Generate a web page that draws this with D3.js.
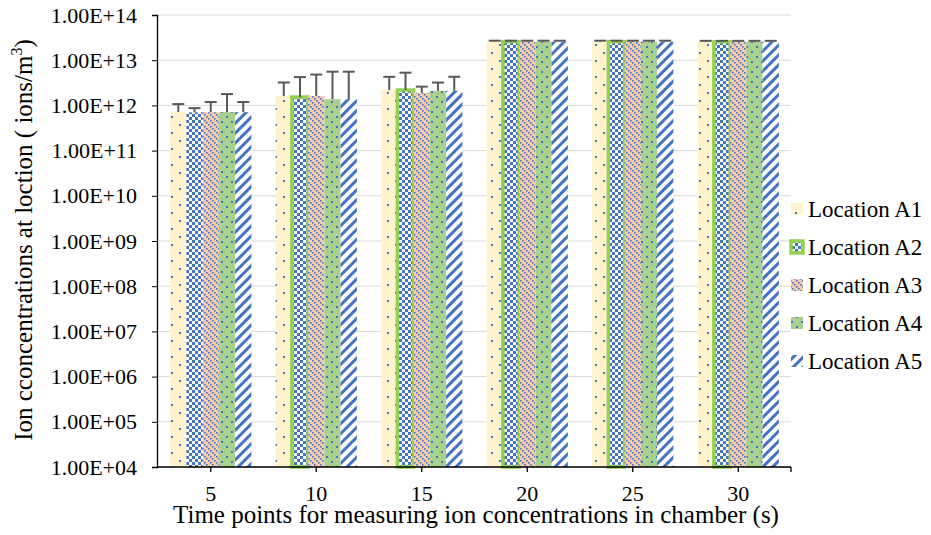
<!DOCTYPE html>
<html>
<head>
<meta charset="utf-8">
<script src="https://cdn.jsdelivr.net/npm/d3@7"></script>
<style>
  body { margin: 0; background: #fff; }
  svg text { font-family: "Liberation Serif", "Times New Roman", "DejaVu Serif", serif; fill: #000; }
</style>
</head>
<body>
<svg id="chart" width="931" height="535"></svg>
<script>
// data
var categories = ['5', '10', '15', '20', '25', '30'];
var seriesNames = ['Location A1', 'Location A2', 'Location A3', 'Location A4', 'Location A5'];
var yTicks = [1e4, 1e5, 1e6, 1e7, 1e8, 1e9, 1e10, 1e11, 1e12, 1e13, 1e14];

var a1 = [7.1e11, 1.61e12, 2.19e12, 2.57e13, 2.57e13, 2.55e13];
var a2 = [7.0e11, 1.53e12, 2.19e12, 2.57e13, 2.57e13, 2.55e13];
var a3 = [7.1e11, 1.61e12, 1.90e12, 2.57e13, 2.57e13, 2.55e13];
var a4 = [7.1e11, 1.37e12, 2.10e12, 2.57e13, 2.57e13, 2.55e13];
var a5 = [7.1e11, 1.37e12, 2.10e12, 2.57e13, 2.57e13, 2.55e13];

// plus error amounts
var e1 = [3.6e11, 1.6e12, 2.1e12, 1.3e12, 1.3e12, 1.3e12];
var e2 = [1.7e11, 2.7e12, 3.1e12, 1.3e12, 1.3e12, 1.3e12];
var e3 = [4.8e11, 3.2e12, 7.0e11, 1.3e12, 1.3e12, 1.3e12];
var e4 = [1.07e12, 4.2e12, 1.1e12, 1.3e12, 1.3e12, 1.3e12];
var e5 = [4.8e11, 4.2e12, 2.2e12, 1.3e12, 1.3e12, 1.3e12];

var values = [a1, a2, a3, a4, a5];
var errors = [e1, e2, e3, e4, e5];

var blue = '#4472C4';
var outlineGreen = '#92D050';
var serif = '"Liberation Serif", "Times New Roman", "DejaVu Serif", serif';

var svg = d3.select('#chart').attr('font-family', serif);
var plotLeft = 158, plotRight = 791, plotTop = 15, plotBottom = 467;

var x = d3.scaleBand()
	.domain(categories)
	.range([plotLeft, plotRight])
	.paddingInner(0.23)
	.paddingOuter(0.115);

var xs = d3.scaleBand()
	.domain(d3.range(seriesNames.length))
	.range([0, x.bandwidth()]);

var y = d3.scaleLog()
	.domain([1e4, 1e14])
	.range([plotBottom, plotTop]);

// patterns
var defs = svg.append('defs');

var p1 = defs.append('pattern').attr('id', 'pat0')
	.attr('patternUnits', 'userSpaceOnUse').attr('width', 16).attr('height', 16);
p1.append('rect').attr('width', 16).attr('height', 16).attr('fill', '#FFF2CC');
p1.append('rect').attr('x', 3).attr('y', 12).attr('width', 2).attr('height', 2).attr('fill', blue);
p1.append('rect').attr('x', 11).attr('y', 4).attr('width', 2).attr('height', 2).attr('fill', blue);

var p2 = defs.append('pattern').attr('id', 'pat1')
	.attr('patternUnits', 'userSpaceOnUse').attr('width', 6).attr('height', 6);
p2.append('rect').attr('width', 6).attr('height', 6).attr('fill', '#fff');
p2.append('rect').attr('width', 3).attr('height', 3).attr('fill', blue);
p2.append('rect').attr('x', 3).attr('y', 3).attr('width', 3).attr('height', 3).attr('fill', blue);

// dotted downward diagonals on peach
var p3 = defs.append('pattern').attr('id', 'pat2')
	.attr('patternUnits', 'userSpaceOnUse').attr('width', 6).attr('height', 6);
p3.append('rect').attr('width', 6).attr('height', 6).attr('fill', '#F8CBAD');
[0, 2, 4].forEach(function(k) {
	p3.append('rect').attr('x', k).attr('y', k).attr('width', 1.6).attr('height', 1.6).attr('fill', blue);
});

var p4 = defs.append('pattern').attr('id', 'pat3')
	.attr('patternUnits', 'userSpaceOnUse').attr('width', 10).attr('height', 10);
p4.append('rect').attr('width', 10).attr('height', 10).attr('fill', '#A9D18E');
p4.append('rect').attr('x', 1).attr('y', 1).attr('width', 2).attr('height', 2).attr('fill', blue);
p4.append('rect').attr('x', 6).attr('y', 6).attr('width', 2).attr('height', 2).attr('fill', blue);

var p5 = defs.append('pattern').attr('id', 'pat4')
	.attr('patternUnits', 'userSpaceOnUse').attr('width', 7).attr('height', 7)
	.attr('patternTransform', 'rotate(45)');
p5.append('rect').attr('width', 7).attr('height', 7).attr('fill', '#fff');
p5.append('rect').attr('width', 3).attr('height', 7).attr('fill', blue);

// gridlines
svg.append('g')
	.selectAll('line')
	.data(yTicks)
	.join('line')
	.attr('x1', plotLeft).attr('x2', plotRight)
	.attr('y1', function(d) { return y(d); })
	.attr('y2', function(d) { return y(d); })
	.attr('stroke', '#D9D9D9')
	.attr('stroke-width', 1);

// bars
var bars = svg.append('g');
seriesNames.forEach(function(name, s) {
	bars.append('g')
		.selectAll('rect')
		.data(values[s])
		.join('rect')
		.attr('x', function(d, i) { return x(categories[i]) + xs(s); })
		.attr('y', function(d) { return y(d); })
		.attr('width', xs.bandwidth())
		.attr('height', function(d) { return y(1e4) - y(d); })
		.attr('fill', 'url(#pat' + s + ')')
		.attr('stroke', function(d, i) { return (s === 1 && i > 0) ? outlineGreen : 'none'; })
		.attr('stroke-width', 3.5);
});

// error bars (plus only)
var errG = svg.append('g').attr('stroke', '#595959').attr('stroke-width', 2).attr('fill', 'none');
seriesNames.forEach(function(name, s) {
	values[s].forEach(function(v, i) {
		var cx = x(categories[i]) + xs(s) + xs.bandwidth() / 2;
		var yTop = y(v + errors[s][i]);
		errG.append('line').attr('x1', cx).attr('x2', cx).attr('y1', y(v)).attr('y2', yTop);
		errG.append('line').attr('x1', cx - 6).attr('x2', cx + 6).attr('y1', yTop).attr('y2', yTop);
	});
});

// y axis
var yAxis = svg.append('g')
	.attr('transform', 'translate(' + (plotLeft - 1) + ',0)')
	.call(d3.axisLeft(y).tickValues(yTicks).tickSize(5).tickPadding(15)
		.tickFormat(function(d) { return '1.00E+' + d3.format('02')(Math.round(Math.log10(d))); }));
yAxis.attr('font-family', serif).attr('font-size', 22);
yAxis.select('.domain').attr('stroke', '#000').attr('stroke-width', 1.3);
yAxis.selectAll('.tick line').attr('stroke', '#000');
yAxis.selectAll('text').attr('font-family', serif).attr('font-size', 22).attr('fill', '#000');

// x axis
var xAxis = svg.append('g')
	.attr('transform', 'translate(0,' + plotBottom + ')');
xAxis.append('line').attr('x1', plotLeft - 1).attr('x2', plotRight).attr('stroke', '#000').attr('stroke-width', 1.3);
xAxis.selectAll('.tk')
	.data(categories.map(function(c) { return x(c) + x.bandwidth() / 2; }).concat([plotRight]))
	.join('line')
	.attr('x1', function(d) { return d; }).attr('x2', function(d) { return d; })
	.attr('y1', 0).attr('y2', 5)
	.attr('stroke', '#000').attr('stroke-width', 1.3);
xAxis.selectAll('text')
	.data(categories)
	.join('text')
	.attr('x', function(d) { return x(d) + x.bandwidth() / 2; })
	.attr('y', 34)
	.attr('text-anchor', 'middle')
	.attr('font-family', serif)
	.attr('font-size', 22)
	.text(function(d) { return d; });

// axis titles
svg.append('text')
	.attr('x', 476).attr('y', 523)
	.attr('text-anchor', 'middle')
	.attr('font-family', serif)
	.attr('font-size', 25)
	.text('Time points for measuring ion concentrations in chamber (s)');

var yt = svg.append('text')
	.attr('transform', 'translate(32,240) rotate(-90)')
	.attr('text-anchor', 'middle')
	.attr('font-family', serif)
	.attr('font-size', 25);
yt.append('tspan').text('Ion cconcentrations at loction ( ions/m');
yt.append('tspan').attr('font-size', 16).attr('dy', -10).text('3');
yt.append('tspan').attr('dy', 10).text(')');

// legend
var legend = svg.append('g');
seriesNames.forEach(function(name, s) {
	var by = 217 + s * 38;
	var sw = legend.append('rect')
		.attr('x', 791).attr('y', by - 14).attr('width', 12).attr('height', 12)
		.attr('fill', 'url(#pat' + s + ')');
	if (s === 1) sw.attr('stroke', outlineGreen).attr('stroke-width', 3.5);
	legend.append('text')
		.attr('x', 808).attr('y', by)
		.attr('font-family', serif)
		.attr('font-size', 23)
		.text(name);
});
</script>
</body>
</html>
